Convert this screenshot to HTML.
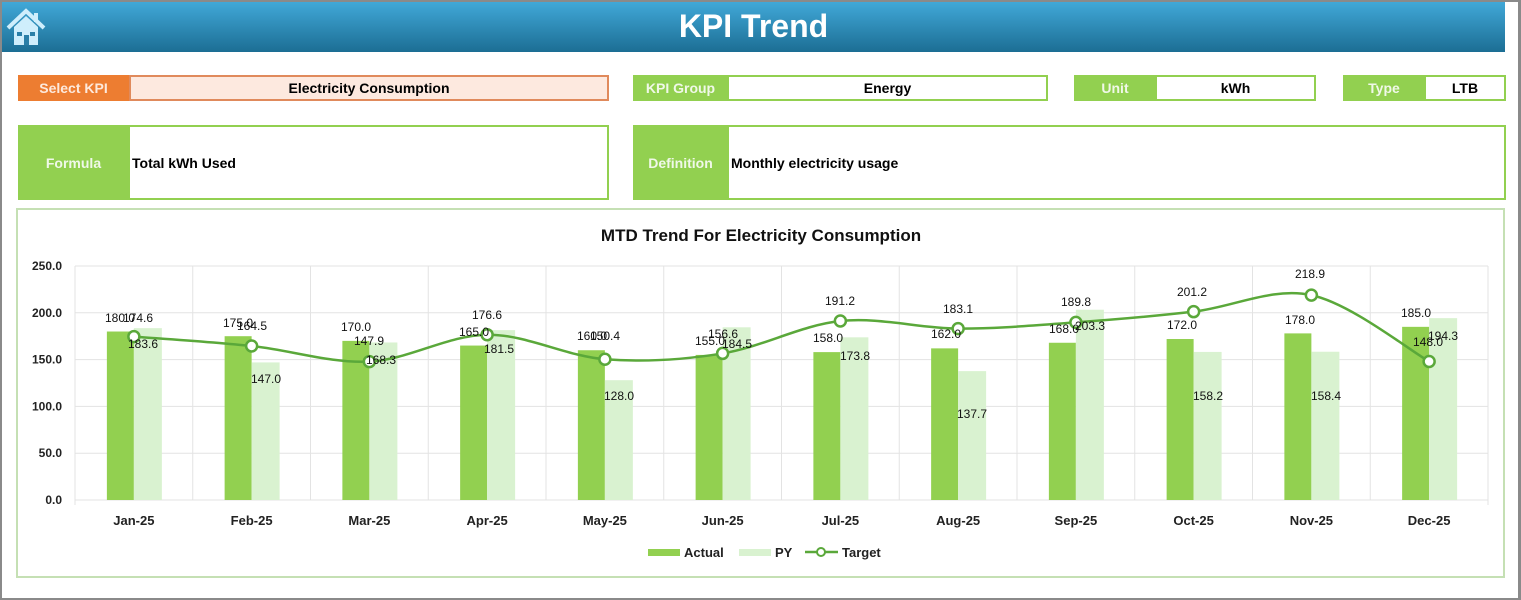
<!DOCTYPE html>
<html><head><meta charset="utf-8"><style>
*{margin:0;padding:0;box-sizing:border-box}
body{width:1521px;height:600px;position:relative;background:#fff;font-family:"Liberation Sans",Arial,sans-serif;overflow:hidden}
.frame{position:absolute;left:0;top:0;width:1521px;height:600px;border-top:2px solid #8a8a8a;border-left:2px solid #8a8a8a;border-right:3px solid #8a8a8a;border-bottom:2px solid #8a8a8a}
.hdr{position:absolute;left:2px;top:2px;width:1503px;height:50px;background:linear-gradient(#41a8d8,#1c6e94)}
.hdr h1{position:absolute;left:0;width:1503px;text-align:center;top:6px;color:#fff;font-size:32px;font-weight:bold}
.b{position:absolute;font-size:14px;font-weight:bold;display:flex;align-items:center;justify-content:center}
.g{background:#92d050;color:#f0f8e8}
.o{background:#ed7d31;color:#fde9dc}
.v{border:2px solid #92d050;background:#fff;color:#000}
.vl{justify-content:flex-start;padding-left:2px}
</style></head><body>
<div class="frame"></div>
<div class="hdr"><h1>KPI Trend</h1>
<svg style="position:absolute;left:4px;top:6px" width="40" height="38" viewBox="0 0 40 38"><path d="M2 20 L20 3 L38 20" fill="none" stroke="#cfeefc" stroke-width="4"/><rect x="28" y="5" width="4" height="9" fill="#cfeefc"/><path d="M8 19 L20 8 L32 19 V37 H8Z" fill="#cfeefc"/><rect x="11" y="24" width="5" height="4" fill="#2a7fa8"/><rect x="24" y="24" width="5" height="4" fill="#2a7fa8"/><rect x="18" y="27" width="5" height="10" fill="#2a7fa8"/></svg>
</div>
<div class="b o" style="left:18px;top:75px;width:111px;height:26px">Select KPI</div>
<div class="b" style="left:129px;top:75px;width:480px;height:26px;background:#fde9df;border:2px solid #e08a5c">Electricity Consumption</div>
<div class="b g" style="left:633px;top:75px;width:95px;height:26px">KPI Group</div>
<div class="b v" style="left:727px;top:75px;width:321px;height:26px">Energy</div>
<div class="b g" style="left:1074px;top:75px;width:82px;height:26px">Unit</div>
<div class="b v" style="left:1155px;top:75px;width:161px;height:26px">kWh</div>
<div class="b g" style="left:1343px;top:75px;width:82px;height:26px">Type</div>
<div class="b v" style="left:1424px;top:75px;width:82px;height:26px">LTB</div>
<div class="b g" style="left:18px;top:125px;width:111px;height:75px">Formula</div>
<div class="b v vl" style="left:128px;top:125px;width:481px;height:75px">Total kWh Used</div>
<div class="b g" style="left:633px;top:125px;width:95px;height:75px">Definition</div>
<div class="b v vl" style="left:727px;top:125px;width:779px;height:75px">Monthly electricity usage</div>
<div style="position:absolute;left:16px;top:208px;width:1489px;height:370px;border:2px solid #c5e0b4"></div>
<svg id="c" style="position:absolute;left:0;top:0" width="1521" height="600"></svg>
<script>
var A=[180,175,170,165,160,155,158,162,168,172,178,185];
var P=[183.6,147,168.3,181.5,128,184.5,173.8,137.7,203.3,158.2,158.4,194.3];
var T=[174.6,164.5,147.9,176.6,150.4,156.6,191.2,183.1,189.8,201.2,218.9,148.0];
var M=["Jan-25","Feb-25","Mar-25","Apr-25","May-25","Jun-25","Jul-25","Aug-25","Sep-25","Oct-25","Nov-25","Dec-25"];
var L=[[[120,318],[138,318],[143,344]],[[238,323],[252,326],[266,379]],[[356,327],[369,341],[381,360]],[[474,332],[487,315],[499,349]],[[592,336],[605,336],[619,396]],[[710,341],[723,334],[737,344]],[[828,338],[840,301],[855,356]],[[946,334],[958,309],[972,414]],[[1064,329],[1076,302],[1090,326]],[[1182,325],[1192,292],[1208,396]],[[1300,320],[1310,274],[1326,396]],[[1416,313],[1428,342],[1443,336]]];
var x0=75,w=117.75,y0=500,s=0.936,h='';
h+='<text x="761" y="241" text-anchor="middle" font-size="17" font-weight="bold" fill="#111">MTD Trend For Electricity Consumption</text>';
for(var i=0;i<=5;i++){var y=y0-i*50*s;h+='<line x1="'+x0+'" x2="1488" y1="'+y+'" y2="'+y+'" stroke="#e3e3e3"/>';h+='<text x="62" y="'+(y+4)+'" text-anchor="end" font-size="12" font-weight="bold" fill="#222">'+(i*50).toFixed(1)+'</text>';}
for(var i=0;i<=12;i++){var x=x0+i*w;h+='<line x1="'+x+'" x2="'+x+'" y1="266" y2="'+(i==0||i==12?505:500)+'" stroke="#e3e3e3"/>';}
var pts=[];
for(var i=0;i<12;i++){var c=x0+w*(i+0.5);
h+='<rect x="'+(c-27)+'" y="'+(y0-A[i]*s)+'" width="27" height="'+A[i]*s+'" fill="#92d050"/>';
h+='<rect x="'+c+'" y="'+(y0-P[i]*s)+'" width="28" height="'+P[i]*s+'" fill="#d9f2d0"/>';
h+='<text x="'+c+'" y="525" text-anchor="middle" font-size="13" font-weight="bold" fill="#222">'+M[i]+'</text>';
pts.push([c,y0-T[i]*s]);}
var d='M'+pts[0];
for(var i=0;i<11;i++){var p0=pts[i>0?i-1:i],p1=pts[i],p2=pts[i+1],p3=pts[i<10?i+2:i+1];
d+=' C'+(p1[0]+(p2[0]-p0[0])/6)+','+(p1[1]+(p2[1]-p0[1])/6)+' '+(p2[0]-(p3[0]-p1[0])/6)+','+(p2[1]-(p3[1]-p1[1])/6)+' '+p2;}
h+='<path d="'+d+'" fill="none" stroke="#5aa83a" stroke-width="2.5"/>';
for(var i=0;i<12;i++)h+='<circle cx="'+pts[i][0]+'" cy="'+pts[i][1]+'" r="5.5" fill="#fff" stroke="#5aa83a" stroke-width="2.5"/>';
var V=[A,T,P];
for(var i=0;i<12;i++)for(var k=0;k<3;k++)h+='<text x="'+L[i][k][0]+'" y="'+(L[i][k][1]+4)+'" text-anchor="middle" font-size="12" fill="#111">'+V[k][i].toFixed(1)+'</text>';
h+='<rect x="648" y="549" width="32" height="7" fill="#92d050"/><text x="684" y="557" font-size="13" font-weight="bold" fill="#222">Actual</text>';
h+='<rect x="739" y="549" width="32" height="7" fill="#d9f2d0"/><text x="775" y="557" font-size="13" font-weight="bold" fill="#222">PY</text>';
h+='<line x1="805" x2="838" y1="552" y2="552" stroke="#5aa83a" stroke-width="2.5"/><circle cx="821" cy="552" r="4" fill="#fff" stroke="#5aa83a" stroke-width="2"/><text x="842" y="557" font-size="13" font-weight="bold" fill="#222">Target</text>';
document.getElementById('c').innerHTML=h;
</script>
</body></html>
